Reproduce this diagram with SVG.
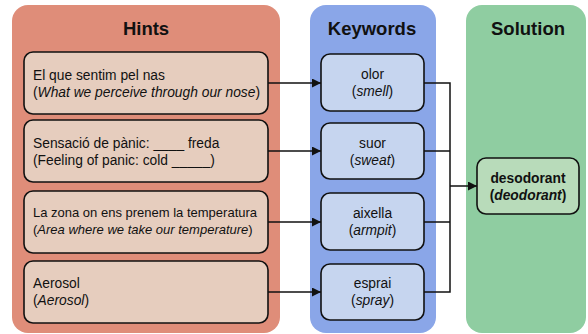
<svg xmlns="http://www.w3.org/2000/svg" width="588" height="334" viewBox="0 0 588 334">
  <style>
    text { font-family: "Liberation Sans", Arial, sans-serif; fill: #111; }
    .title { font-size: 18.5px; font-weight: bold; text-anchor: middle; }
    .t { font-size: 13.8px; }
    .s { font-size: 13px; }
    .c { text-anchor: middle; }
    .b { font-weight: bold; }
    .i { font-style: italic; }
    .box { stroke: #111; stroke-width: 1.6; }
    .hint { fill: #E6CDBE; }
    .kw { fill: #C6D5EF; }
    .sol { fill: #B8DBBA; }
    .wire { fill: none; stroke: #111; stroke-width: 1.5; }
  </style>
  <defs>
    <marker id="arrow" viewBox="0 0 10 10" refX="10" refY="5" markerWidth="9" markerHeight="9" markerUnits="userSpaceOnUse" orient="auto">
      <path d="M0,0 L10,5 L0,10 z" fill="#111"/>
    </marker>
  </defs>

  <!-- columns -->
  <g id="hints-panel">
    <rect x="12" y="5" width="268" height="328" rx="16" fill="#DF8D79"/>
    <text class="title" x="146" y="35">Hints</text>
  </g>
  <g id="keywords-panel">
    <rect x="310" y="5" width="126" height="328" rx="16" fill="#8AA6E8"/>
    <text class="title" x="372" y="35">Keywords</text>
  </g>
  <g id="solution-panel">
    <rect x="466" y="5" width="120" height="328" rx="16" fill="#8FCDA1"/>
    <text class="title" x="528" y="35">Solution</text>
  </g>

  <!-- hint nodes -->
  <g id="hint-1">
    <rect class="box hint" x="24" y="52" width="244" height="62" rx="9"/>
    <text class="t" x="33" y="80">El que sentim pel nas</text>
    <text class="t" x="33" y="97">(<tspan class="i">What we perceive through our nose</tspan>)</text>
  </g>
  <g id="hint-2">
    <rect class="box hint" x="24" y="120" width="244" height="62" rx="9"/>
    <text class="t" x="33" y="148">Sensació de pànic: ____ freda</text>
    <text class="t" x="33" y="165">(Feeling of panic: cold _____)</text>
  </g>
  <g id="hint-3">
    <rect class="box hint" x="24" y="191" width="244" height="62" rx="9"/>
    <text class="s" x="33" y="217">La zona on ens prenem la temperatura</text>
    <text class="s" x="33" y="234">(<tspan class="i">Area where we take our temperature</tspan>)</text>
  </g>
  <g id="hint-4">
    <rect class="box hint" x="24" y="261" width="244" height="62" rx="9"/>
    <text class="t" x="33" y="288">Aerosol</text>
    <text class="t" x="33" y="305">(<tspan class="i">Aerosol</tspan>)</text>
  </g>

  <!-- keyword nodes -->
  <g id="kw-olor">
    <rect class="box kw" x="321" y="54" width="103" height="57" rx="9"/>
    <text class="t c" x="372.5" y="79">olor</text>
    <text class="t c" x="372.5" y="96">(<tspan class="i">smell</tspan>)</text>
  </g>
  <g id="kw-suor">
    <rect class="box kw" x="321" y="123" width="103" height="56" rx="9"/>
    <text class="t c" x="372.5" y="148">suor</text>
    <text class="t c" x="372.5" y="165">(<tspan class="i">sweat</tspan>)</text>
  </g>
  <g id="kw-aixella">
    <rect class="box kw" x="321" y="193" width="103" height="57" rx="9"/>
    <text class="t c" x="372.5" y="218">aixella</text>
    <text class="t c" x="372.5" y="235">(<tspan class="i">armpit</tspan>)</text>
  </g>
  <g id="kw-esprai">
    <rect class="box kw" x="321" y="264" width="103" height="56" rx="9"/>
    <text class="t c" x="372.5" y="288">esprai</text>
    <text class="t c" x="372.5" y="305">(<tspan class="i">spray</tspan>)</text>
  </g>

  <!-- solution node -->
  <g id="solution">
    <rect class="box sol" x="477" y="158" width="102" height="56" rx="9"/>
    <text class="t c b" x="528" y="183">desodorant</text>
    <text class="t c b" x="528" y="200">(<tspan class="i">deodorant</tspan>)</text>
  </g>

  <!-- connectors -->
  <g id="connectors">
    <line class="wire" x1="268" y1="83" x2="321" y2="83" marker-end="url(#arrow)"/>
    <line class="wire" x1="268" y1="151" x2="321" y2="151" marker-end="url(#arrow)"/>
    <line class="wire" x1="268" y1="222" x2="321" y2="222" marker-end="url(#arrow)"/>
    <line class="wire" x1="268" y1="292" x2="321" y2="292" marker-end="url(#arrow)"/>
    <path class="wire" d="M424,83 H450 M424,151 H450 M424,222 H450 M424,292 H450 M450,82.25 V292.75"/>
    <line class="wire" x1="450" y1="186" x2="477" y2="186" marker-end="url(#arrow)"/>
  </g>
</svg>
